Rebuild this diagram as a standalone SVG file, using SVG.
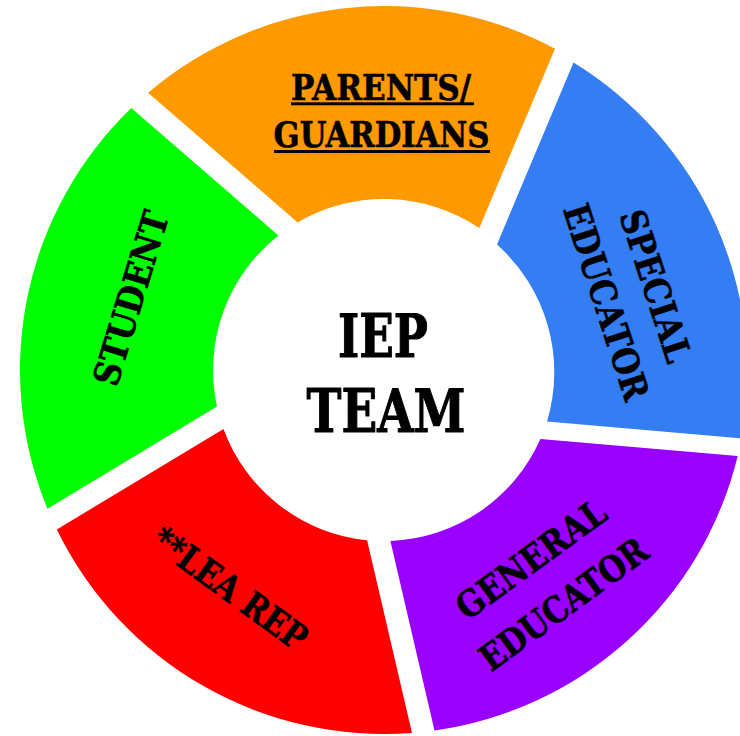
<svg xmlns="http://www.w3.org/2000/svg" width="740" height="736" viewBox="0 0 740 736">
  <style>
    .lbl { font-family: 'DejaVu Serif', 'Liberation Serif', serif; font-weight: bold; font-size: 36px; fill: #000000; stroke: #000000; stroke-width: 0.6px; stroke-linejoin: round; text-anchor: middle; }
    .big { font-size: 60px; stroke-width: 1.1px; }
    .ul { fill: #000000; }
  </style>
  <rect x="0" y="0" width="740" height="736" fill="#ffffff"/>
  <g id="connectors"/>
  <g id="general-educator">
    <path d="M737.7,456.0 A364,364 0 0 1 434.5,730.5 L390.4,540.9 A171,171 0 0 0 540.4,439.1 Z" fill="#9900FF"/>
    <g transform="translate(547 581.3) rotate(-36)">
      <text class="lbl" x="0" y="-14.6" textLength="176" lengthAdjust="spacingAndGlyphs">GENERAL</text>
      <text class="lbl" x="0" y="40.8" textLength="198" lengthAdjust="spacingAndGlyphs">EDUCATOR</text>
    </g>
  </g>
  <g id="lea-rep">
    <path d="M412.0,732.9 A364,364 0 0 1 56.8,529.5 L223.5,428.9 A171,171 0 0 0 367.1,540.2 Z" fill="#FF0000"/>
    <text class="lbl" x="0" y="13.1" transform="translate(230 588) rotate(36)" textLength="182" lengthAdjust="spacingAndGlyphs">**LEA REP</text>
  </g>
  <g id="student">
    <path d="M47.5,508.8 A364,364 0 0 1 131.3,108.0 L278.4,235.5 A171,171 0 0 0 217.0,406.5 Z" fill="#00FF00"/>
    <text class="lbl" x="0" y="13.1" transform="translate(130.5 298) rotate(-73)" textLength="180" lengthAdjust="spacingAndGlyphs">STUDENT</text>
  </g>
  <g id="parents-guardians">
    <path d="M148.1,92.8 A364,364 0 0 1 555.0,48.7 L479.3,228.0 A171,171 0 0 0 297.6,222.4 Z" fill="#FF9900"/>
    <text class="lbl" x="381" y="100" textLength="180" lengthAdjust="spacingAndGlyphs">PARENTS/</text>
    <rect class="ul" x="291" y="102.3" width="183" height="3"/>
    <text class="lbl" x="381.5" y="146.7" textLength="216" lengthAdjust="spacingAndGlyphs">GUARDIANS</text>
    <rect class="ul" x="274" y="150" width="216" height="3"/>
  </g>
  <g id="special-educator">
    <path d="M573.5,62.5 A364,364 0 0 1 741.5,438.3 L547.0,421.6 A171,171 0 0 0 497.0,244.5 Z" fill="#347DF2"/>
    <g transform="translate(631.3 294) rotate(72)">
      <text class="lbl" x="0" y="-12.8" textLength="158" lengthAdjust="spacingAndGlyphs">SPECIAL</text>
      <text class="lbl" x="0" y="39" textLength="204" lengthAdjust="spacingAndGlyphs">EDUCATOR</text>
    </g>
  </g>
  <g id="iep-team">
    <text class="lbl big" x="383" y="356.7" textLength="90" lengthAdjust="spacingAndGlyphs">IEP</text>
    <text class="lbl big" x="386" y="431.7" textLength="159" lengthAdjust="spacingAndGlyphs">TEAM</text>
  </g>
</svg>
